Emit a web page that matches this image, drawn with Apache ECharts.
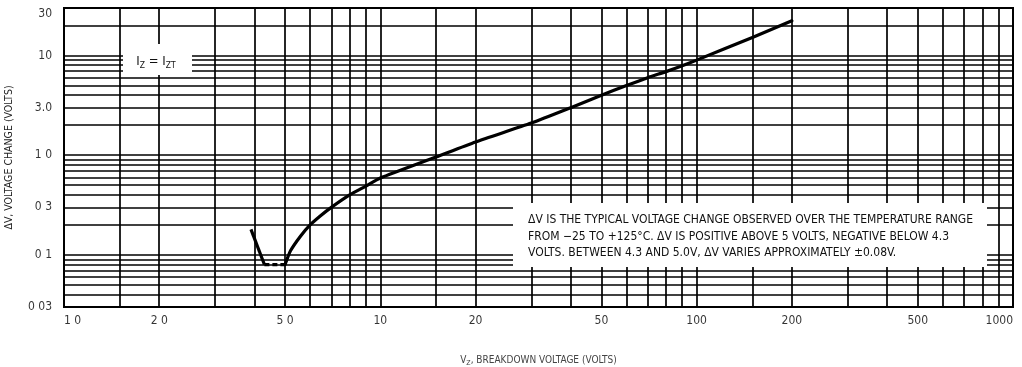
<!DOCTYPE html>
<html>
<head>
<meta charset="utf-8">
<script src="https://cdn.jsdelivr.net/npm/echarts@6/dist/echarts.min.js"></script>
<style>
html,body{margin:0;padding:0;background:#fff;}
#chart{width:1022px;height:367px;}
</style>
</head>
<body>
<div id="chart"></div>
<script>
// ---- data ----
const xTickValues = [1, 2, 5, 10, 20, 50, 100, 200, 500, 1000];
const xTickLabels = ['1 0', '2 0', '5 0', '10', '20', '50', '100', '200', '500', '1000'];
const yTickValues = [0.03, 0.1, 0.3, 1, 3, 10, 30];
const yTickLabels = ['0 03', '0 1', '0 3', '1 0', '3.0', '10', '30'];
const xGridValues = [1.5, 2, 3, 4, 5, 6, 7, 8, 9, 10, 15, 20, 30, 40, 50, 60, 70, 80, 90,
                     100, 150, 200, 300, 400, 500, 600, 700, 800, 900];
const yGridValues = [0.04, 0.05, 0.06, 0.07, 0.08, 0.09, 0.1, 0.2, 0.3, 0.4, 0.5, 0.6, 0.7, 0.8, 0.9,
                     1, 2, 3, 4, 5, 6, 7, 8, 9, 10, 20];
// curve: below 4.3 V (solid), 4.3 - 5.0 V (dashed), above 5.0 V (solid)
const vzLow = [3.9, 4.3];
const dvLow = [0.18, 0.08];
const vzFlat = [4.3, 5.0];
const dvFlat = [0.08, 0.08];
const vzHigh = [5.0, 5.2, 5.6, 6.0, 6.5, 7, 8, 9, 10, 15, 20, 30, 40, 50, 60, 70, 80, 90, 100, 150, 200];
const dvHigh = [0.08, 0.11, 0.155, 0.20, 0.25, 0.30, 0.40, 0.49, 0.59, 0.96, 1.36, 2.1, 3.0, 4.0, 5.0, 6.0, 6.9, 7.9, 9.0, 15.2, 22.3];
const xMin = 1, xMax = 1000, yMin = 0.03, yMax = 30;

const FONT = "'Liberation Sans Narrow', 'DejaVu Sans Condensed', 'Liberation Sans', sans-serif";
const pairs = (xs, ys) => xs.map((x, i) => [x, ys[i]]);

const chart = echarts.init(document.getElementById('chart'), null, {renderer: 'canvas'});

const gridLines = xGridValues.map(v => ({xAxis: v})).concat(yGridValues.map(v => ({yAxis: v})));

const xLabelData = xTickValues.map((v, i) => ({
  value: [v, yMin],
  label: {
    formatter: xTickLabels[i],
    align: i === 0 ? 'left' : (i === xTickValues.length - 1 ? 'right' : 'center')
  }
}));
const yLabelData = yTickValues.map((v, i) => ({
  value: [xMin, v],
  label: {
    formatter: yTickLabels[i],
    verticalAlign: i === yTickValues.length - 1 ? 'top' : 'middle'
  }
}));

const option = {
  backgroundColor: '#fff',
  animation: false,
  grid: {
    left: 64, right: 9, top: 8, bottom: 60,
    show: true, borderColor: '#000', borderWidth: 2, backgroundColor: 'transparent',
    containLabel: false, outerBoundsMode: 'none'
  },
  xAxis: {
    type: 'log', logBase: 10, min: xMin, max: xMax,
    axisLine: {show: false}, axisTick: {show: false}, axisLabel: {show: false},
    splitLine: {show: false}, minorTick: {show: false}, minorSplitLine: {show: false},
    name: '{a|V}{s|Z}{a|, BREAKDOWN VOLTAGE (VOLTS)}',
    nameLocation: 'middle', nameGap: 46,
    nameTextStyle: {
      rich: {
        a: {fontFamily: FONT, fontSize: 10, color: '#444', lineHeight: 14},
        s: {fontFamily: FONT, fontSize: 7, color: '#444', verticalAlign: 'bottom', lineHeight: 14}
      }
    }
  },
  yAxis: {
    type: 'log', logBase: 10, min: yMin, max: yMax,
    axisLine: {show: false}, axisTick: {show: false}, axisLabel: {show: false},
    splitLine: {show: false}, minorTick: {show: false}, minorSplitLine: {show: false},
    name: 'ΔV, VOLTAGE CHANGE (VOLTS)',
    nameLocation: 'middle', nameGap: 49, nameRotate: 90,
    nameTextStyle: {fontFamily: FONT, fontSize: 10.5, color: '#222'}
  },
  series: [
    {
      type: 'line', data: [], silent: true,
      markLine: {
        silent: true, symbol: ['none', 'none'], animation: false,
        label: {show: false},
        lineStyle: {color: '#000', width: 1.7, type: 'solid', opacity: 1},
        emphasis: {disabled: true},
        data: gridLines
      },
      z: 1
    },
    {
      type: 'scatter', data: xLabelData, symbolSize: 0, silent: true, clip: false,
      label: {show: true, position: 'bottom', distance: 8, fontFamily: FONT, fontSize: 12, color: '#000'},
      z: 5
    },
    {
      type: 'scatter', data: yLabelData, symbolSize: 0, silent: true, clip: false,
      label: {show: true, position: 'left', distance: 12, fontFamily: FONT, fontSize: 12, color: '#000'},
      z: 5
    },
    {
      type: 'line', data: pairs(vzLow, dvLow), symbol: 'none', silent: true,
      lineStyle: {color: '#000', width: 3.2, type: 'solid'}, z: 6
    },
    {
      type: 'line', data: pairs(vzFlat, dvFlat), symbol: 'none', silent: true,
      lineStyle: {color: '#000', width: 3.2, type: [5, 3]}, z: 6
    },
    {
      type: 'line', data: pairs(vzHigh, dvHigh), symbol: 'none', silent: true,
      smooth: 0.2,
      lineStyle: {color: '#000', width: 3.2, type: 'solid', cap: 'round', join: 'round'}, z: 6
    }
  ],
  graphic: [
    {
      type: 'rect', z: 100, silent: true,
      shape: {x: 123, y: 44, width: 69, height: 31},
      style: {fill: '#fff'}
    },
    {
      type: 'text', z: 101, silent: true, x: 156, y: 62,
      style: {
        text: '{b|I}{s|Z}{b| = I}{s|ZT}',
        align: 'center', verticalAlign: 'middle',
        rich: {
          b: {fontFamily: FONT, fontSize: 13, fill: '#111', lineHeight: 16},
          s: {fontFamily: FONT, fontSize: 8.5, fill: '#111', lineHeight: 16, verticalAlign: 'bottom'}
        }
      }
    },
    {
      type: 'rect', z: 100, silent: true,
      shape: {x: 513, y: 203, width: 474, height: 64},
      style: {fill: '#fff'}
    },
    {
      type: 'text', z: 101, silent: true, x: 528, y: 212,
      style: {
        text: 'ΔV IS THE TYPICAL VOLTAGE CHANGE OBSERVED OVER THE TEMPERATURE RANGE\n' +
              'FROM −25 TO +125°C. ΔV IS POSITIVE ABOVE 5 VOLTS, NEGATIVE BELOW 4.3\n' +
              'VOLTS. BETWEEN 4.3 AND 5.0V, ΔV VARIES APPROXIMATELY ±0.08V.',
        fontFamily: FONT, fontSize: 12, fill: '#111', lineHeight: 16.5,
        align: 'left', verticalAlign: 'top'
      }
    }
  ]
};
chart.setOption(option);
</script>
</body>
</html>
